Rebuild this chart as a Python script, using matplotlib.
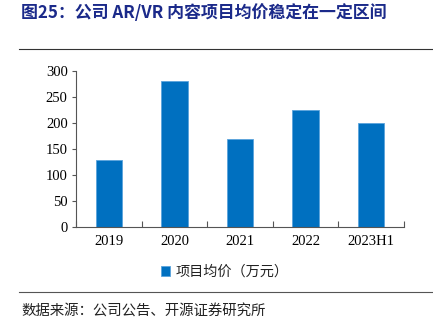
import matplotlib
matplotlib.use('Agg')
import matplotlib.pyplot as plt
import numpy as np

# data
years = ['2019', '2020', '2021', '2022', '2023H1']
avg_price = [129, 280, 170, 225, 200]
yticks = [0, 50, 100, 150, 200, 250, 300]

cjk = ['Noto Sans CJK SC', 'DejaVu Sans']
serif = ['Liberation Serif', 'DejaVu Serif']
title_blue = '#1B2A8A'
bar_blue = '#0070C0'

fig = plt.figure(figsize=(4.33, 3.33), dpi=100)
ax = fig.add_axes([76 / 433, 1 - 227 / 333, 328 / 433, 156 / 333])

x = np.arange(len(years))
ax.bar(x, avg_price, width=0.4, color=bar_blue, edgecolor='#5BA3DC',
       linewidth=0.6, label='项目均价（万元）')

ax.set_xlim(-0.5, len(years) - 0.5)
ax.set_ylim(0, 300)
ax.set_yticks(yticks)
ax.set_yticklabels([str(v) for v in yticks], fontfamily=serif, fontsize=10.5)
ax.set_xticks(x)
ax.set_xticklabels(years, fontfamily=serif, fontsize=10.5)
ax.tick_params(axis='x', length=0, pad=6)
ax.tick_params(axis='y', length=3, width=0.8, color='#555555', pad=3)
# boundary ticks on the category axis, pointing up
ax.set_xticks(np.arange(-0.5, len(years)), minor=True)
ax.tick_params(axis='x', which='minor', direction='in', length=4,
               width=0.8, color='#555555')

for s in ['top', 'right']:
    ax.spines[s].set_visible(False)
for s in ['left', 'bottom']:
    ax.spines[s].set_color('#555555')
    ax.spines[s].set_linewidth(0.8)

fig.text(21 / 433, 1 - 13 / 333, '图25：公司 AR/VR 内容项目均价稳定在一定区间',
         fontfamily=cjk, fontsize=12.2, fontweight='bold', color=title_blue,
         va='center', ha='left')

fig.add_artist(plt.Line2D([19 / 433, 1], [1 - 49 / 333] * 2,
                          color='#333333', linewidth=0.8))
fig.add_artist(plt.Line2D([19 / 433, 1], [1 - 292 / 333] * 2,
                          color='#555555', linewidth=0.8))

leg = fig.legend(loc='center', bbox_to_anchor=(225 / 433, 1 - 272 / 333),
                 frameon=False, prop={'family': cjk, 'size': 10.2},
                 handlelength=0.65, handleheight=0.65, handletextpad=0.4)
for t in leg.get_texts():
    t.set_color('#222222')

fig.text(21 / 433, 1 - 311 / 333, '数据来源：公司公告、开源证券研究所',
         fontfamily=cjk, fontsize=10.4, color='#222222', va='center', ha='left')

fig.savefig('out.png', dpi=100)
